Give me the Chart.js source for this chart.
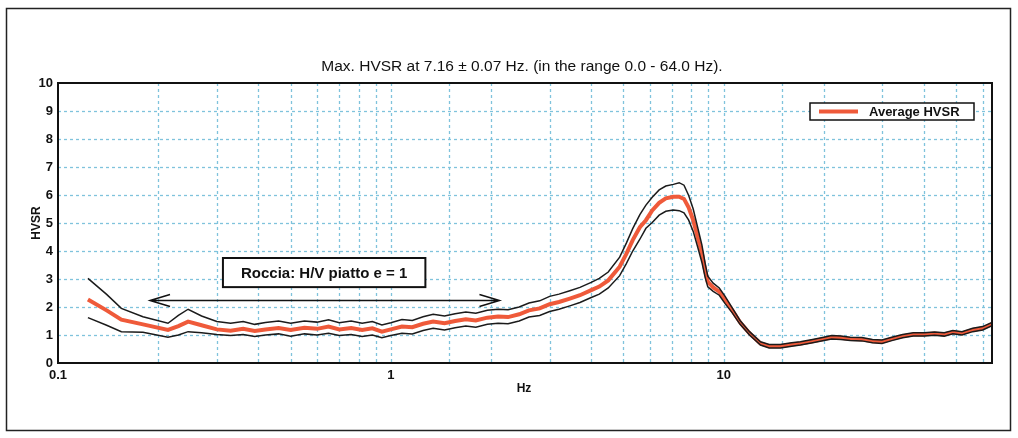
<!DOCTYPE html>
<html>
<head>
<meta charset="utf-8">
<script src="https://cdn.jsdelivr.net/npm/chart.js@4/dist/chart.umd.min.js"></script>
<style>
  html, body { margin: 0; padding: 0; background: #fff; }
  #hvsr { display: block; }
</style>
</head>
<body>
<canvas id="hvsr" width="1018" height="438"></canvas>
<script>
const freqHz = [0.123, 0.14, 0.155, 0.18, 0.214, 0.23, 0.246, 0.27, 0.3, 0.33, 0.36, 0.39, 0.42, 0.46, 0.5, 0.55, 0.6, 0.65, 0.7, 0.76, 0.82, 0.88, 0.94, 1.0, 1.08, 1.16, 1.25, 1.34, 1.45, 1.56, 1.68, 1.8, 1.95, 2.1, 2.25, 2.43, 2.6, 2.8, 3.0, 3.2, 3.45, 3.7, 4.0, 4.23, 4.5, 4.87, 5.1, 5.33, 5.6, 5.84, 6.1, 6.4, 6.7, 7.06, 7.35, 7.6, 7.85, 8.1, 8.35, 8.6, 8.8, 8.96, 9.3, 9.7, 10.1, 10.6, 11.2, 11.96, 12.9, 13.7, 14.8, 16, 17, 18.5, 20, 21.1, 22.5, 24, 26, 28, 29.9, 32, 34.5, 37.1, 40, 43, 46, 48.8, 52, 56, 60, 64];

const avgHvsr = [2.27, 1.88, 1.55, 1.38, 1.18, 1.32, 1.48, 1.35, 1.2, 1.15, 1.22, 1.14, 1.2, 1.25, 1.18, 1.26, 1.22, 1.3, 1.2, 1.25, 1.18, 1.24, 1.12, 1.2, 1.3, 1.28, 1.4, 1.48, 1.42, 1.5, 1.56, 1.52, 1.62, 1.66, 1.64, 1.74, 1.88, 1.95, 2.1, 2.18, 2.3, 2.42, 2.6, 2.73, 2.95, 3.44, 3.9, 4.39, 4.85, 5.1, 5.45, 5.72, 5.88, 5.94, 5.94, 5.86, 5.55, 5.1, 4.5, 3.92, 3.3, 2.9, 2.7, 2.55, 2.25, 1.89, 1.45, 1.06, 0.7, 0.6, 0.6, 0.66, 0.7, 0.78, 0.86, 0.92, 0.9, 0.86, 0.85, 0.78, 0.76, 0.86, 0.96, 1.02, 1.02, 1.05, 1.02, 1.1, 1.06, 1.18, 1.24, 1.39];

const upperHvsr = [3.02, 2.45, 1.95, 1.65, 1.42, 1.7, 1.92, 1.68, 1.48, 1.42, 1.48, 1.38, 1.45, 1.5, 1.42, 1.5, 1.46, 1.54, 1.44, 1.5, 1.42, 1.48, 1.36, 1.44, 1.55, 1.52, 1.65, 1.74, 1.68, 1.76, 1.82, 1.78, 1.88, 1.92, 1.9, 2.0, 2.14, 2.22, 2.38, 2.46, 2.58, 2.7, 2.88, 3.02, 3.25, 3.78, 4.28, 4.8, 5.3, 5.64, 5.92, 6.18, 6.32, 6.38, 6.44, 6.35, 5.98, 5.5, 4.85, 4.22, 3.55, 3.1, 2.85, 2.68, 2.38, 1.98, 1.52, 1.12, 0.76, 0.66, 0.66, 0.72, 0.76, 0.84, 0.92, 0.98, 0.96, 0.92, 0.91, 0.84, 0.82, 0.92, 1.02, 1.08, 1.08, 1.11, 1.08, 1.16, 1.12, 1.24, 1.3, 1.45];

const lowerHvsr = [1.62, 1.35, 1.12, 1.1, 0.92, 1.0, 1.12, 1.08, 1.02, 0.98, 1.02, 0.95, 1.0, 1.04, 0.96, 1.04, 1.0, 1.06, 0.98, 1.02, 0.95, 1.0, 0.9, 0.98, 1.06, 1.04, 1.16, 1.24, 1.18, 1.26, 1.32, 1.28, 1.38, 1.42, 1.4, 1.5, 1.64, 1.7, 1.84, 1.92, 2.04, 2.16, 2.34, 2.46, 2.68, 3.12, 3.55, 4.0, 4.42, 4.81, 5.02, 5.28, 5.42, 5.46, 5.44, 5.36, 5.1, 4.7, 4.15, 3.6, 3.05, 2.72, 2.56, 2.42, 2.12, 1.8, 1.38, 1.0, 0.64, 0.54, 0.54, 0.6, 0.64, 0.72, 0.8, 0.86, 0.84, 0.8, 0.79, 0.72, 0.7, 0.8, 0.9, 0.96, 0.96, 0.99, 0.96, 1.04, 1.0, 1.12, 1.18, 1.33];

const xTickLabels = [0.1, 1, 10];
const chartTitle = 'Max. HVSR at 7.16 \u00b1 0.07 Hz. (in the range 0.0 - 64.0 Hz).';
const noteText = 'Roccia: H/V piatto e = 1';

const FONT = '"Liberation Sans", Arial, sans-serif';
const RED = '#ef5a3a';
const GRID = '#7fc3dc';

const toPoints = (ys) => freqHz.map((f, i) => ({ x: f, y: ys[i] }));

// dashed grid, drawn by hand from the scale ticks
const dashedGrid = {
  id: 'dashedGrid',
  beforeDatasetsDraw(chart) {
    const { ctx, chartArea: a, scales } = chart;
    ctx.save();
    ctx.strokeStyle = GRID;
    ctx.lineWidth = 1.3;
    ctx.setLineDash([3, 3]);
    scales.x.ticks.forEach((t) => {
      const px = Math.round(scales.x.getPixelForValue(t.value)) + 0.5;
      if (px <= a.left + 1 || px >= a.right - 1) return;
      ctx.beginPath();
      ctx.moveTo(px, a.top);
      ctx.lineTo(px, a.bottom);
      ctx.stroke();
    });
    scales.y.ticks.forEach((t) => {
      const py = Math.round(scales.y.getPixelForValue(t.value)) + 0.5;
      if (py <= a.top + 1 || py >= a.bottom - 1) return;
      ctx.beginPath();
      ctx.moveTo(a.left, py);
      ctx.lineTo(a.right, py);
      ctx.stroke();
    });
    ctx.restore();
  }
};

// frame, titles, legend and the note with its arrow
const decorations = {
  id: 'decorations',
  beforeDraw(chart) {
    const ctx = chart.ctx;
    ctx.save();
    ctx.fillStyle = '#fff';
    ctx.fillRect(0, 0, chart.width, chart.height);
    ctx.strokeStyle = '#222';
    ctx.lineWidth = 1.5;
    ctx.strokeRect(6.5, 8.5, 1004, 422);
    ctx.restore();
  },
  afterDatasetsDraw(chart) {
    const { ctx, chartArea: a, scales } = chart;
    const xs = scales.x, ys = scales.y;
    ctx.save();
    ctx.strokeStyle = '#111';
    ctx.lineWidth = 2;
    ctx.strokeRect(a.left, a.top, a.right - a.left, a.bottom - a.top);

    // title
    ctx.fillStyle = '#111';
    ctx.font = '15.5px ' + FONT;
    ctx.textAlign = 'center';
    ctx.textBaseline = 'middle';
    ctx.fillText(chartTitle, 522, 67);

    // axis titles
    ctx.font = 'bold 12px ' + FONT;
    ctx.fillText('Hz', 524, 389);
    ctx.save();
    ctx.translate(37, 223);
    ctx.rotate(-Math.PI / 2);
    ctx.font = 'bold 12px ' + FONT;
    ctx.fillText('HVSR', 0, 0);
    ctx.restore();

    // legend
    ctx.lineWidth = 1.5;
    ctx.strokeStyle = '#111';
    ctx.fillStyle = '#fff';
    ctx.fillRect(810, 103, 164, 17);
    ctx.strokeRect(810, 103, 164, 17);
    ctx.strokeStyle = RED;
    ctx.lineWidth = 4;
    ctx.beginPath();
    ctx.moveTo(819, 111.5);
    ctx.lineTo(858, 111.5);
    ctx.stroke();
    ctx.fillStyle = '#111';
    ctx.font = 'bold 13px ' + FONT;
    ctx.textAlign = 'left';
    ctx.fillText('Average HVSR', 869, 112);

    // note box placed in data units
    const bx0 = xs.getPixelForValue(0.313), bx1 = xs.getPixelForValue(1.27);
    const by0 = ys.getPixelForValue(3.75), by1 = ys.getPixelForValue(2.71);
    ctx.fillStyle = '#fff';
    ctx.fillRect(bx0, by0, bx1 - bx0, by1 - by0);
    ctx.strokeStyle = '#111';
    ctx.lineWidth = 2;
    ctx.strokeRect(bx0, by0, bx1 - bx0, by1 - by0);
    ctx.fillStyle = '#111';
    ctx.font = 'bold 15px ' + FONT;
    ctx.textAlign = 'center';
    ctx.fillText(noteText, (bx0 + bx1) / 2, (by0 + by1) / 2 + 1);

    // double arrow
    const ax0 = xs.getPixelForValue(0.189), ax1 = xs.getPixelForValue(2.12);
    const ay = Math.round(ys.getPixelForValue(2.25)) + 0.5;
    ctx.lineWidth = 1.5;
    ctx.beginPath();
    ctx.moveTo(ax0, ay);
    ctx.lineTo(ax1, ay);
    ctx.moveTo(ax0 + 20, ay - 6);
    ctx.lineTo(ax0, ay);
    ctx.lineTo(ax0 + 20, ay + 6);
    ctx.moveTo(ax1 - 20, ay - 6);
    ctx.lineTo(ax1, ay);
    ctx.lineTo(ax1 - 20, ay + 6);
    ctx.stroke();
    ctx.restore();
  }
};

new Chart(document.getElementById('hvsr').getContext('2d'), {
  type: 'line',
  data: {
    datasets: [
      {
        label: 'Upper',
        data: toPoints(upperHvsr),
        borderColor: '#1b1b1b',
        borderWidth: 1.5,
        pointRadius: 0,
        order: 0,
      },
      {
        label: 'Lower',
        data: toPoints(lowerHvsr),
        borderColor: '#1b1b1b',
        borderWidth: 1.5,
        pointRadius: 0,
        order: 0,
      },
      {
        label: 'Average HVSR',
        data: toPoints(avgHvsr),
        borderColor: RED,
        borderWidth: 4,
        pointRadius: 0,
        order: 1,
      },
    ],
  },
  options: {
    responsive: false,
    animation: false,
    devicePixelRatio: 1,
    layout: { padding: { left: 0, top: 83, right: 26, bottom: 0 } },
    plugins: { legend: { display: false }, title: { display: false }, tooltip: { enabled: false } },
    elements: { line: { tension: 0 } },
    scales: {
      x: {
        type: 'logarithmic',
        min: 0.1,
        max: 64,
        afterFit: (s) => { s.height = 75; },
        grid: { display: false, drawTicks: false },
        border: { display: false },
        ticks: {
          autoSkip: false,
          maxRotation: 0,
          padding: 5,
          color: '#111',
          font: { family: FONT, size: 13, weight: 'bold' },
          callback: (v) => (xTickLabels.includes(Number(v.toPrecision(3))) ? String(v) : ''),
        },
      },
      y: {
        min: 0,
        max: 10,
        afterFit: (s) => { s.width = 58; },
        grid: { display: false, drawTicks: false },
        border: { display: false },
        ticks: {
          stepSize: 1,
          padding: 5,
          color: '#111',
          font: { family: FONT, size: 13, weight: 'bold' },
        },
      },
    },
  },
  plugins: [dashedGrid, decorations],
});
</script>
</body>
</html>
